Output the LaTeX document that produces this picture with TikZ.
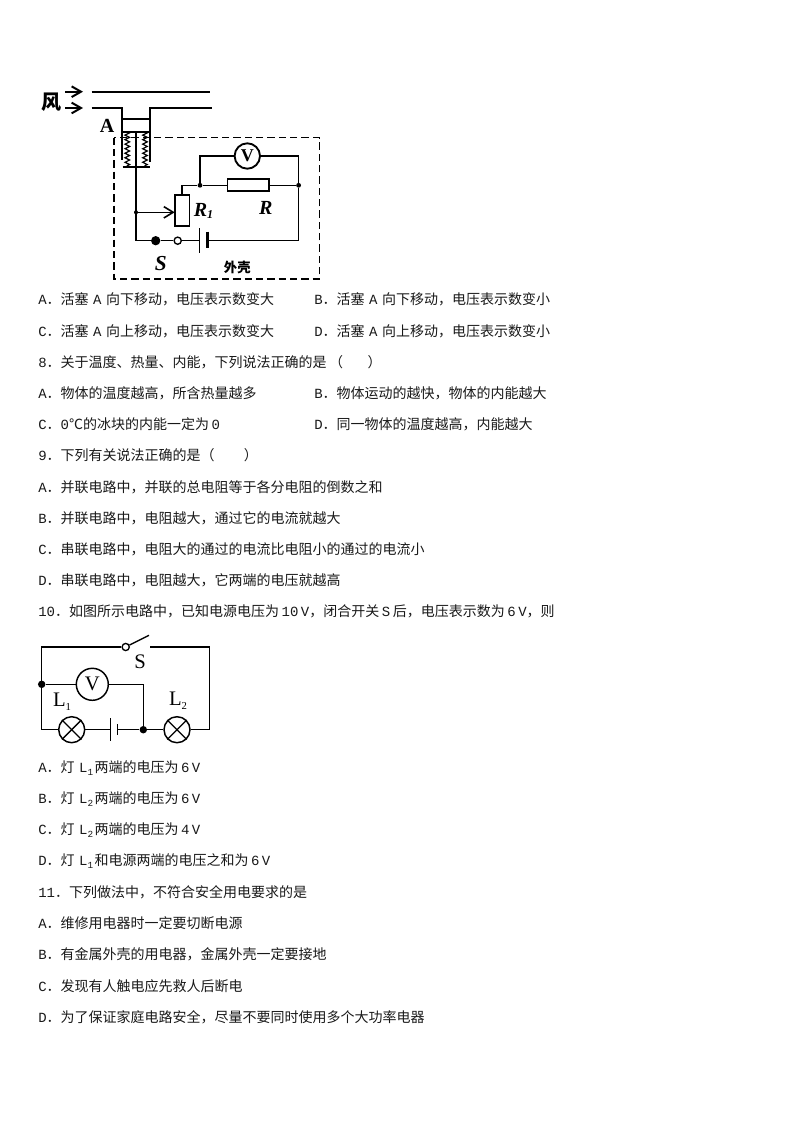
\documentclass[tikz,border=0pt]{standalone}
\usepackage{fontspec}
\setmainfont{Noto Sans CJK SC}
\newfontfamily\latf{Liberation Mono}
\newfontfamily\serf{Liberation Serif}
\newcommand{\la}[1]{{\latf #1}}
\newcommand{\ks}{\hspace{1.9pt}}
\newcommand{\kw}{\hspace{3.4pt}}
\newcommand{\sbs}[1]{\smash{\raisebox{-0.35ex}{\fontsize{7pt}{8pt}\selectfont\latf #1}}\hspace{1pt}}
\usetikzlibrary{arrows.meta,decorations.pathmorphing}
\tikzset{
 line/.style={line width=1.1pt,black},
 heavy/.style={line width=1.5pt,black},
 line2/.style={line width=1pt,black},
 txt/.style={anchor=west,inner sep=0pt,font=\fontsize{10.5pt}{12pt}\selectfont,text=black!90},
 dotb/.style={circle,fill=black,inner sep=0pt,minimum size=#1},
 opendot/.style={circle,draw=black,line width=1pt,fill=white,inner sep=0pt,minimum size=#1},
 meter/.style={circle,draw=black,line width=1.4pt,fill=white,inner sep=0pt,minimum size=#1},
 res/.style={draw=black,line width=1.2pt,fill=white,inner sep=0pt},
 lampn/.style={circle,draw=black,line width=1.1pt,fill=white,inner sep=0pt,minimum size=26*0.75pt},
 bl/.style={inner sep=0pt,font=\serf\bfseries\itshape\fontsize{15pt}{16pt}\selectfont},
 lab/.style={inner sep=0pt,font=\serf\fontsize{15.5pt}{16pt}\selectfont},
 windarr/.style={line width=1.5pt,-{Straight Barb[length=7pt,width=8pt,line width=1.5pt]}},
 springn/.style={black,line width=0.9pt,decorate,decoration={zigzag,segment length=3.4pt,amplitude=1.7pt}},
}
\begin{document}
\begin{tikzpicture}[x=0.75pt,y=-0.75pt]
\useasboundingbox (0,0) rectangle (794,1123);
% ---------- first figure
\coordinate (p1) at (91.7,92.3); \coordinate (p2) at (210,92.3);
\coordinate (p3) at (91.7,107.7); \coordinate (p4) at (122.3,107.7); \coordinate (p5) at (122.3,160);
\coordinate (p6) at (211.7,107.7); \coordinate (p7) at (150,107.7); \coordinate (p8) at (150,161.7);
\draw[heavy] (p1)--(p2);
\draw[heavy] (p3)--(p4)--(p5);
\draw[heavy] (p6)--(p7)--(p8);
\node[draw=black,line width=1.3pt,minimum width=27.7*0.75pt,minimum height=12.4*0.75pt,inner sep=0pt] (piston) at (136.1,125.5) {};
\draw[black,line width=1.2pt,dash pattern=on 5.5pt off 3pt] (114,137.7) rectangle (319.3,279);
\coordinate (s1t) at (127.3,131.7); \coordinate (s1b) at (127.3,167);
\coordinate (s2t) at (145,131.7); \coordinate (s2b) at (145,167);
\draw[springn] (s1t)--(s1b);
\draw[springn] (s2t)--(s2b);
\draw[line width=0.8pt] (122.5,167)--(150,167);
\node[dotb=3pt] (j0) at (136,212.3) {};
\node[res,minimum width=14.6*0.75pt,minimum height=31*0.75pt] (r1) at (182,210.5) {};
\coordinate (r1w) at (174.7,212.3);
\node[res,minimum width=41.4*0.75pt,minimum height=12*0.75pt] (rr) at (248,185.3) {};
\node[meter=25.4*0.75pt] (vm) at (247.3,156) {\serf\bfseries\fontsize{13.5pt}{14pt}\selectfont V};
\node[dotb=3.6pt] (j1) at (200,185.3) {};
\node[dotb=3.6pt] (j2) at (298.6,185.3) {};
\node[dotb=7pt] (sw1) at (155.7,240.7) {};
\node[opendot=5.4pt] (sw2) at (177.7,240.7) {};
\coordinate (b1) at (199.3,240.7); \coordinate (b2) at (207.7,240.7);
\coordinate (c1) at (136,240.7); \coordinate (c2) at (298.6,240.7);
\coordinate (c3) at (136,131.7); \coordinate (c4) at (182,185.3);
\coordinate (c5) at (200,156); \coordinate (c6) at (298.6,156);
\draw[line] (c3)--(c1)--(sw1);
\draw[line] (sw1)--(sw2);
\draw[line] (sw2)--(b1);
\draw[line] (b2)--(c2)--(j2);
\draw[line] (j2)--(c6)--(vm);
\draw[line] (vm)--(c5)--(j1);
\draw[line] (r1.north)--(c4)--(j1)--(rr);
\draw[line] (rr)--(j2);
\draw[line,-{Straight Barb[length=7pt,width=8.5pt,line width=1.2pt]}] (j0)--(r1w);
\draw[line width=1.1pt] (199.3,228.3)--(199.3,252.7);
\draw[line width=2.4pt] (207.7,231.7)--(207.7,248.3);
\coordinate (w1) at (65,91.7); \coordinate (w2) at (83,91.7);
\coordinate (w3) at (65,108); \coordinate (w4) at (83,108);
\draw[windarr] (w1)--(w2);
\draw[windarr] (w3)--(w4);
\node[inner sep=0pt,font=\bfseries\fontsize{15pt}{16pt}\selectfont] (feng) at (51,102) {风};
\node[inner sep=0pt,font=\serf\bfseries\fontsize{15pt}{16pt}\selectfont] (la) at (107,125.7) {A};
\node[bl] (lr1) at (203.5,211) {R\raisebox{-0.3ex}{\fontsize{9pt}{10pt}\selectfont 1}};
\node[bl] (lr) at (265.7,208) {R};
\node[bl,font=\serf\bfseries\itshape\fontsize{16pt}{17pt}\selectfont] (ls) at (160.7,264) {S};
\node[inner sep=0pt,font=\bfseries\fontsize{10pt}{11pt}\selectfont] (lk) at (237.3,267) {外壳};
% ---------- second figure
\node[opendot=5.4pt] (a1) at (125.7,647) {};
\coordinate (a2) at (149,635.3);
\coordinate (a3) at (150,647); \coordinate (a4) at (209.3,647); \coordinate (a5) at (209.3,729.7);
\coordinate (a6) at (41.7,647); \coordinate (a7) at (41.7,729.7);
\node[dotb=5.6pt] (d1) at (41.7,684.3) {};
\node[dotb=5.6pt] (d2) at (143.3,729.7) {};
\coordinate (a8) at (143.3,684.3);
\node[meter=32*0.75pt,line width=1.1pt] (v2) at (92.3,684.3) {\serf\fontsize{15.5pt}{16pt}\selectfont V};
\node[lampn] (l1) at (71.7,729.7) {};
\node[lampn] (l2) at (177,729.7) {};
\foreach \n in {l1,l2}{
 \draw[line width=1pt] (\n.45)--(\n.225);
 \draw[line width=1pt] (\n.135)--(\n.315);
}
\coordinate (bb1) at (110.3,729.7); \coordinate (bb2) at (117.3,729.7);
\draw[line2] (a1)--(a6)--(a7)--(l1);
\draw[line2] (l1)--(bb1);
\draw[line2] (bb2)--(d2);
\draw[line2] (d2)--(l2);
\draw[line2] (l2)--(a5)--(a4)--(a3);
\draw[line2] (a1)--(a2);
\draw[line2] (d2)--(a8)--(v2);
\draw[line2] (v2)--(d1);
\draw[line width=0.9pt] (110.3,718.3)--(110.3,741);
\draw[line width=1pt] (117.3,724.3)--(117.3,735);
\node[lab] (tl1) at (62,701.7) {L\raisebox{-0.4ex}{\fontsize{8pt}{9pt}\selectfont 1}};
\node[lab] (tl2) at (178,700.7) {L\raisebox{-0.4ex}{\fontsize{8pt}{9pt}\selectfont 2}};
\node[lab] (ts) at (140,661.7) {S};
% ---------- text
\node[txt] (t1) at (38,299) {\la{A}．活塞\kw\la{A}\kw 向下移动，电压表示数变大};
\node[txt] (t2) at (314,299) {\la{B}．活塞\kw\la{A}\kw 向下移动，电压表示数变小};
\node[txt] (t3) at (38,331) {\la{C}．活塞\kw\la{A}\kw 向上移动，电压表示数变大};
\node[txt] (t4) at (314,331) {\la{D}．活塞\kw\la{A}\kw 向上移动，电压表示数变小};
\node[txt] (t5) at (38,362) {\la{8}．关于温度、热量、内能，下列说法正确的是\ks（\hspace{18.4pt}）};
\node[txt] (t6) at (38,393) {\la{A}．物体的温度越高，所含热量越多};
\node[txt] (t7) at (314,393) {\la{B}．物体运动的越快，物体的内能越大};
\node[txt] (t8) at (38,424) {\la{C}．\la{0}℃的冰块的内能一定为\ks\la{0}};
\node[txt] (t9) at (314,424) {\la{D}．同一物体的温度越高，内能越大};
\node[txt] (t10) at (38,455) {\la{9}．下列有关说法正确的是（\hspace{22pt}）};
\node[txt] (t11) at (38,487) {\la{A}．并联电路中，并联的总电阻等于各分电阻的倒数之和};
\node[txt] (t12) at (38,518) {\la{B}．并联电路中，电阻越大，通过它的电流就越大};
\node[txt] (t13) at (38,549) {\la{C}．串联电路中，电阻大的通过的电流比电阻小的通过的电流小};
\node[txt] (t14) at (38,580) {\la{D}．串联电路中，电阻越大，它两端的电压就越高};
\node[txt] (t15) at (38,611) {\la{10}．如图所示电路中，已知电源电压为\ks\la{10}\ks\la{V}，闭合开关\ks\la{S}\ks 后，电压表示数为\ks\la{6}\ks\la{V}，则};
\node[txt] (t16) at (38,767) {\la{A}．灯\kw\la{L}\sbs{1}两端的电压为\ks\la{6}\ks\la{V}};
\node[txt] (t17) at (38,798) {\la{B}．灯\kw\la{L}\sbs{2}两端的电压为\ks\la{6}\ks\la{V}};
\node[txt] (t18) at (38,829) {\la{C}．灯\kw\la{L}\sbs{2}两端的电压为\ks\la{4}\ks\la{V}};
\node[txt] (t19) at (38,860) {\la{D}．灯\kw\la{L}\sbs{1}和电源两端的电压之和为\ks\la{6}\ks\la{V}};
\node[txt] (t20) at (38,892) {\la{11}．下列做法中，不符合安全用电要求的是};
\node[txt] (t21) at (38,923) {\la{A}．维修用电器时一定要切断电源};
\node[txt] (t22) at (38,954) {\la{B}．有金属外壳的用电器，金属外壳一定要接地};
\node[txt] (t23) at (38,986) {\la{C}．发现有人触电应先救人后断电};
\node[txt] (t24) at (38,1017) {\la{D}．为了保证家庭电路安全，尽量不要同时使用多个大功率电器};
\end{tikzpicture}
\end{document}
